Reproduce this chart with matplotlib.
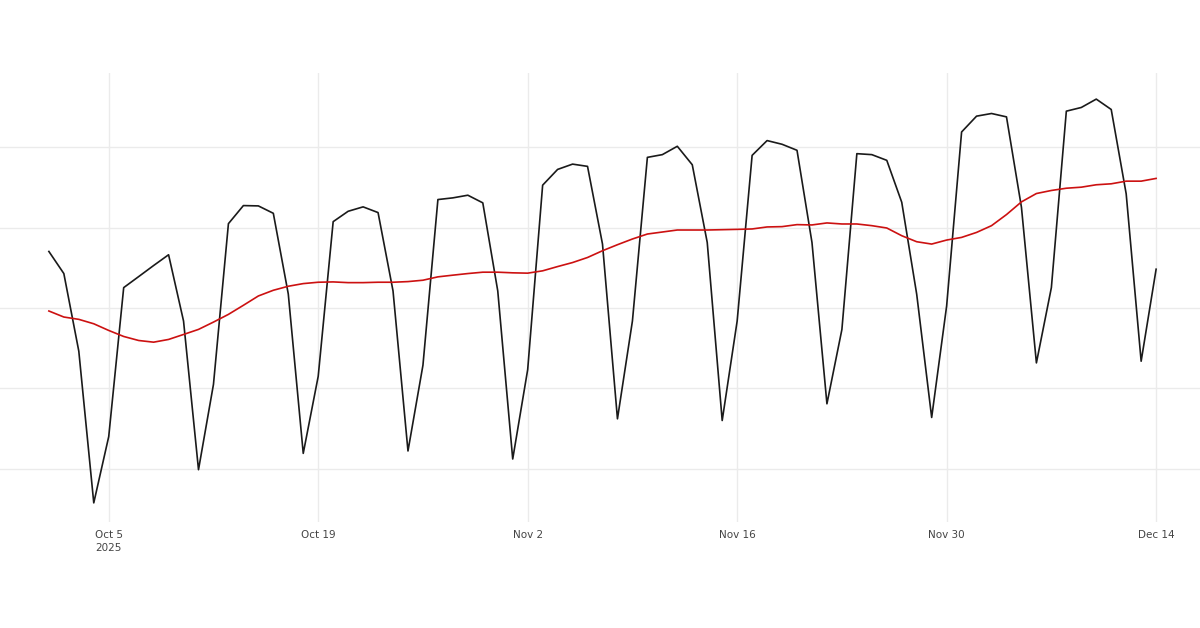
import numpy as np
import pandas as pd
import matplotlib
matplotlib.use("Agg")
import matplotlib.pyplot as plt
import matplotlib.dates as mdates

# Daily dates, Oct 1 - Dec 14 2025
dates = pd.date_range("2025-10-01", "2025-12-14", freq="D")

# Daily values (black line)
daily = [
    3704, 3429, 2463, 575, 1400, 3254, 3391, 3529, 3663, 2838,
    988, 2050, 4050, 4275, 4271, 4179, 3175, 1191, 2150, 4075,
    4204, 4259, 4188, 3213, 1221, 2288, 4350, 4371, 4404, 4309,
    3213, 1121, 2233, 4529, 4725, 4791, 4763, 3796, 1621, 2838,
    4875, 4909, 5013, 4783, 3816, 1600, 2838, 4900, 5084, 5038,
    4963, 3816, 1808, 2733, 4921, 4909, 4838, 4316, 3171, 1638,
    3025, 5191, 5388, 5421, 5379, 4254, 2317, 3254, 5450, 5496,
    5600, 5471, 4421, 2338, 3483,
]

# Smoothed trend (red line)
trend = [
    2963, 2888, 2859, 2804, 2721, 2646, 2596, 2575, 2609, 2671,
    2734, 2825, 2921, 3034, 3150, 3221, 3271, 3304, 3321, 3325,
    3316, 3316, 3321, 3321, 3329, 3346, 3388, 3409, 3429, 3446,
    3446, 3438, 3434, 3463, 3516, 3566, 3629, 3713, 3788, 3859,
    3921, 3946, 3971, 3971, 3971, 3975, 3979, 3984, 4009, 4013,
    4038, 4034, 4059, 4046, 4046, 4025, 3996, 3900, 3825, 3796,
    3846, 3879, 3941, 4025, 4163, 4321, 4425, 4463, 4491, 4504,
    4534, 4546, 4579, 4579, 4613,
]

tick_dates = pd.to_datetime(["2025-10-05", "2025-10-19", "2025-11-02",
                             "2025-11-16", "2025-11-30", "2025-12-14"])
tick_labels = ["Oct 5\n2025", "Oct 19", "Nov 2", "Nov 16", "Nov 30", "Dec 14"]
y_grid = [1000, 2000, 3000, 4000, 5000]

fig = plt.figure(figsize=(12, 6.28), dpi=100)
ax = fig.add_axes([0, 1 - 522 / 628, 1, (522 - 73) / 628])

ax.plot(dates, daily, color="#1a1a1a", lw=1.2)
ax.plot(dates, trend, color="#cc1111", lw=1.2)

ax.set_xlim(dates[0] - pd.Timedelta(days=49 / 15), dates[-1] + pd.Timedelta(days=44 / 15))
ax.set_ylim(337, 5925)

ax.set_xticks(tick_dates)
ax.set_xticklabels(tick_labels, fontsize=7.5, color="#444444", linespacing=1.3)
ax.set_yticks(y_grid)
ax.set_yticklabels([])
ax.tick_params(axis="both", length=0, pad=6)

ax.grid(True, color="#ebebeb", lw=1)
ax.set_axisbelow(True)
for s in ax.spines.values():
    s.set_visible(False)

fig.savefig("out.png", dpi=100)
